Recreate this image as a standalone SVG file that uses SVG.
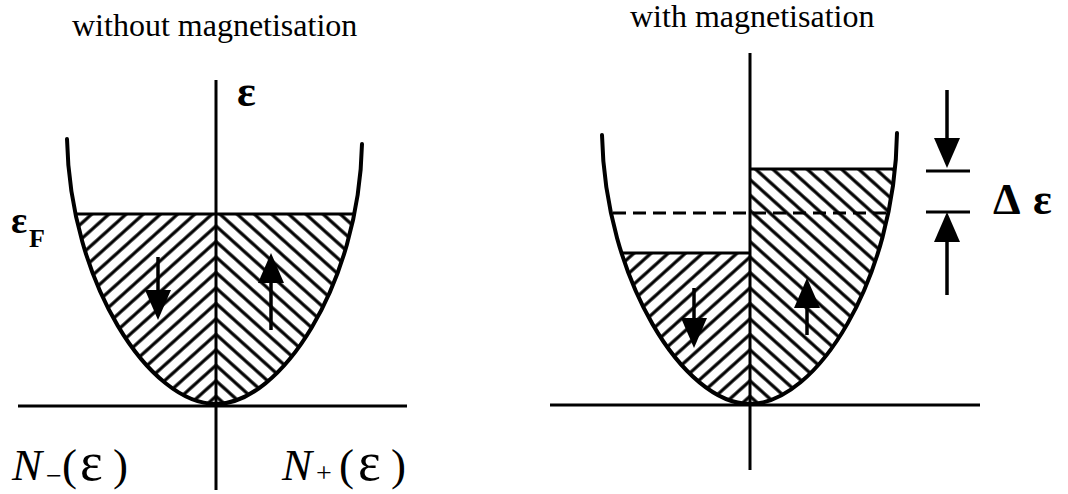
<svg xmlns="http://www.w3.org/2000/svg" width="1068" height="494" viewBox="0 0 1068 494">
<style>
.ln{stroke:#000;fill:none;stroke-width:3}
.curve{stroke:#000;fill:none;stroke-width:4;stroke-linecap:round}
.sh{stroke:#000;stroke-width:3.5;fill:none}
.title{font-family:"Liberation Serif","Times New Roman",serif;font-size:32px;fill:#000}
.sym{font-family:"Liberation Serif","Times New Roman",serif;fill:#000}
</style>
<defs>
<pattern id="hatchL" patternUnits="userSpaceOnUse" width="20" height="11.5" patternTransform="rotate(-42)">
<rect width="20" height="11.5" fill="#fff"/>
<line x1="-1" y1="5.75" x2="21" y2="5.75" stroke="#000" stroke-width="3.2"/>
</pattern>
<pattern id="hatchR" patternUnits="userSpaceOnUse" width="20" height="11.5" patternTransform="rotate(42)">
<rect width="20" height="11.5" fill="#fff"/>
<line x1="-1" y1="5.75" x2="21" y2="5.75" stroke="#000" stroke-width="3.2"/>
</pattern>
<clipPath id="cupA"><path d="M -149 -265 C -146 -120 -66 0 0 0 C 64 0 143 -118 146 -260 Z"/></clipPath>
<clipPath id="cupB"><path d="M -148 -269 C -145 -124 -66 0 0 0 C 66 0 145 -124 147 -271 Z"/></clipPath>
<marker id="ah" viewBox="0 0 30 26" refX="22" refY="13" markerWidth="30" markerHeight="26" orient="auto" markerUnits="userSpaceOnUse">
<path d="M0 0 L30 13 L0 26 Z" fill="#000"/>
</marker>
</defs>
<rect width="1068" height="494" fill="#fff"/>

<text class="title" x="72" y="36">without magnetisation</text>
<text class="title" x="630" y="27">with magnetisation</text>

<g id="left-diagram" transform="translate(216 404)">
<g id="left-fill">
<rect x="-160" y="-190" width="160" height="195" fill="url(#hatchL)" clip-path="url(#cupA)"/>
<rect x="0" y="-190" width="160" height="195" fill="url(#hatchR)" clip-path="url(#cupA)"/>
</g>
<path class="curve" d="M -149 -265 C -146 -120 -66 0 0 0 C 64 0 143 -118 146 -260"/>
<line class="ln" x1="-141" y1="-190" x2="138" y2="-190"/>
<line class="ln" x1="-198" y1="2" x2="191" y2="2"/>
<line class="ln" x1="0" y1="-324" x2="0" y2="86"/>
<g id="left-spins">
<line class="sh" x1="-58" y1="-147" x2="-58" y2="-92" marker-end="url(#ah)"/>
<line class="sh" x1="55" y1="-74" x2="55" y2="-143" marker-end="url(#ah)"/>
</g>
</g>
<text class="sym" x="237" y="106" font-size="44" font-weight="bold">ε</text>
<text class="sym" x="11" y="233" font-size="38" font-weight="bold">ε</text>
<text class="sym" x="29" y="247" font-size="26" font-weight="bold">F</text>
<text class="sym" y="480" font-size="45"><tspan x="12" font-style="italic">N</tspan><tspan x="46" font-size="28" dy="5">−</tspan><tspan x="62" dy="-5">(</tspan><tspan x="80" font-size="54">ε</tspan><tspan x="113">)</tspan></text>
<text class="sym" y="480" font-size="45"><tspan x="282" font-style="italic">N</tspan><tspan x="316" font-size="28" dy="2">+</tspan><tspan x="339" dy="-2">(</tspan><tspan x="358" font-size="54">ε</tspan><tspan x="391">)</tspan></text>

<g id="right-diagram" transform="translate(750 404)">
<g id="right-fill">
<rect x="-160" y="-151" width="160" height="156" fill="url(#hatchL)" clip-path="url(#cupB)"/>
<rect x="0" y="-235" width="160" height="240" fill="url(#hatchR)" clip-path="url(#cupB)"/>
</g>
<path class="curve" d="M -148 -269 C -145 -124 -66 0 0 0 C 66 0 145 -124 147 -271"/>
<line class="ln" x1="0" y1="-235" x2="143" y2="-235"/>
<line class="ln" x1="-128" y1="-151" x2="0" y2="-151"/>
<line class="ln" x1="-137" y1="-191" x2="137" y2="-191" stroke-dasharray="13 7"/>
<line class="ln" x1="-200" y1="1" x2="230" y2="1"/>
<line class="ln" x1="0" y1="-351" x2="0" y2="66"/>
<g id="right-spins">
<line class="sh" x1="-56" y1="-116" x2="-56" y2="-64" marker-end="url(#ah)"/>
<line class="sh" x1="57" y1="-69" x2="57" y2="-118" marker-end="url(#ah)"/>
</g>
</g>

<g id="delta-marker">
<line class="sh" x1="947" y1="90" x2="947" y2="160" marker-end="url(#ah)"/>
<line class="sh" x1="947" y1="295" x2="947" y2="220" marker-end="url(#ah)"/>
<line class="ln" x1="926" y1="171" x2="970" y2="171"/>
<line class="ln" x1="926" y1="212" x2="970" y2="212"/>
</g>
<text class="sym" x="993" y="214" font-size="44" font-weight="bold">Δ</text>
<text class="sym" x="1033" y="214" font-size="44" font-weight="bold">ε</text>
</svg>
